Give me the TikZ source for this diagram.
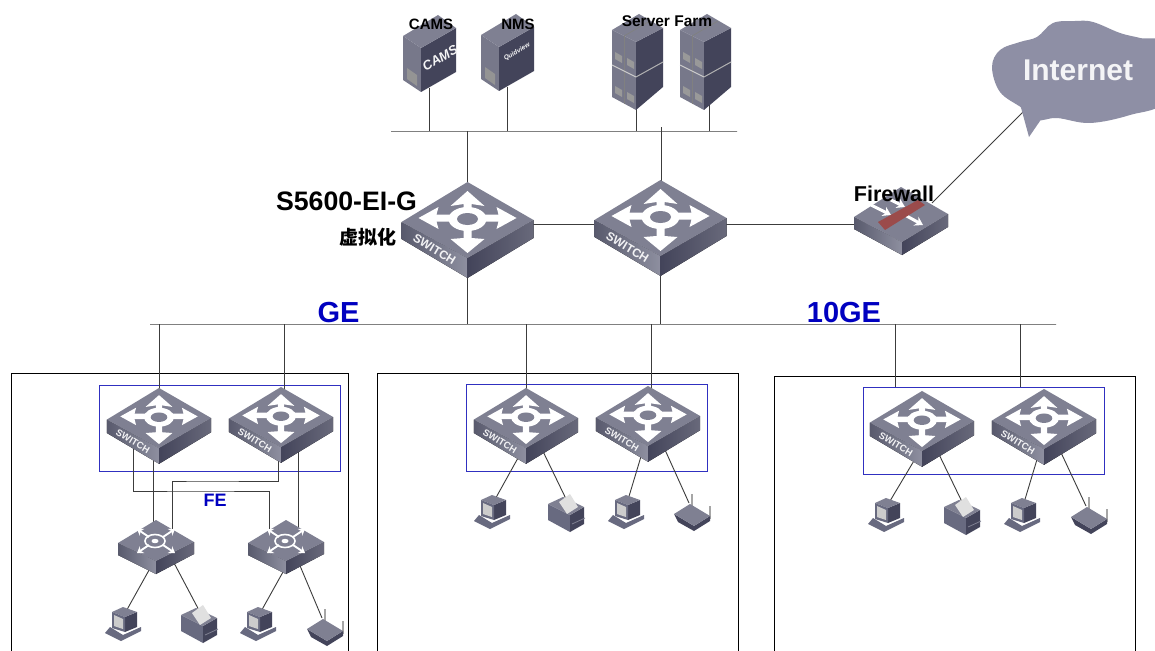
\documentclass[tikz,border=0pt]{standalone}
\usepackage{fontspec}
\setmainfont{Liberation Sans}
\newfontfamily\cjkfont{Noto Sans CJK SC}
\usetikzlibrary{arrows.meta,calc}
\pgfdeclarelayer{bg}
\pgfsetlayers{bg,main}
\definecolor{topc}{HTML}{7F8092}
\definecolor{leftc}{HTML}{686A80}
\definecolor{rightc}{HTML}{43445A}
\definecolor{towerc}{HTML}{77788A}
\definecolor{cloudc}{HTML}{8E8FA5}
\definecolor{blueb}{HTML}{3030C0}
\definecolor{lab}{HTML}{0000C0}
\definecolor{wire}{HTML}{3C3C3C}
\tikzset{
  wirel/.style={draw=wire,line width=.9pt},
  ttop/.style={fill=topc},
  tleft/.style={left color=leftc!85!black,right color=leftc!75!white},
  tright/.style={left color=rightc,right color=rightc!80!white},
  wht/.style={fill=white},
  blackbox/.style={draw=black,line width=.7pt},
  bluebox/.style={draw=blueb,line width=.8pt,inner sep=0pt},
  busline/.style={draw=wire,line width=.9pt,inner sep=0pt,minimum height=0pt},
  lbl/.style={inner sep=0pt,font=\bfseries},
  pics/bigsw/.style={code={
    \coordinate (-c) at (0,0);
    \coordinate (-top) at (0,-30);
    \coordinate (-bot) at (0,50);
    \coordinate (-pa) at (-32,30);
    \coordinate (-pb) at (-7,45);
    \coordinate (-pc) at (-3,45);
    \coordinate (-pd) at (18,35);
    \fill[tleft] (-66,2)--(0,38)--(0,58)--(-66,19)--cycle;
    \fill[tright] (0,38)--(66,0)--(66,18)--(0,58)--cycle;
    \fill[ttop] (0,-38)--(66,0)--(0,38)--(-66,2)--cycle;
    \fill[wht] (-49,-2)--(-29,-13)--(-31,-5.5)--(31,-5.5)--(29,-13)--(49,-2)--(29,9)--(31,1.5)--(-31,1.5)--(-29,9)--cycle;
    \fill[wht] (0,-29)--(17,-14)--(4,-16)--(4,18)--(17,19)--(0,33)--(-17,19)--(-4,18)--(-4,-16)--(-17,-14)--cycle;
    \fill[wht] (0,-1) ellipse [x radius=19,y radius=12];
    \fill[topc] (0,-1) ellipse [x radius=10.5,y radius=6];
    \node[transform shape,rotate=-31,text=white!90!topc,inner sep=0pt,font=\fontsize{12}{12}\selectfont\bfseries] at (-33,29.5) {SWITCH};
  }},
  pics/accsw/.style={code={
    \coordinate (-c) at (0,0);
    \coordinate (-pa) at (-3,22);
    \coordinate (-pb) at (17,20);
    \fill[tleft] (-38,2)--(0,20)--(0,33)--(-38,14)--cycle;
    \fill[tright] (0,20)--(38,1)--(38,13)--(0,33)--cycle;
    \fill[ttop] (0,-21)--(38,1)--(0,20)--(-38,2)--cycle;
    \draw[white,line width=1.6pt] (-1,0) ellipse [x radius=10,y radius=6.5];
    \foreach \dx/\dy in {-1/-1,1/-1,-1/1,1/1}
      \draw[white,line width=1.9pt,-{Stealth[length=6pt,width=8pt]}] (\dx*7,\dy*4) -- (\dx*19,\dy*12);
    \fill[white] (-1,0) ellipse [x radius=3.5,y radius=2.2];
  }},
  pics/firewallsw/.style={code={
    \coordinate (-c) at (0,0);
    \coordinate (-w) at (-40,9);
    \coordinate (-ne) at (31,-12);
    \fill[tleft] (-47,2)--(1,27)--(1,40)--(-47,14)--cycle;
    \fill[tright] (1,27)--(47,-1)--(47,12)--(1,40)--cycle;
    \fill[ttop] (0,-28)--(47,-1)--(1,27)--(-47,2)--cycle;
    \draw[white,line width=3pt,-{Stealth[length=8pt,width=10pt]}] (-30,-10)--(-10,0);
    \draw[white,line width=3pt,-{Stealth[length=8pt,width=10pt]}] (-12,-16)--(4,-8);
    \draw[white,line width=3pt,-{Stealth[length=8pt,width=10pt]}] (2,-1)--(22,10);
    \fill[fill=red!35!gray!90!black] (-23,7)--(17,-15)--(24,-10)--(-16,15)--cycle;
  }},
  pics/pcdev/.style={code={
    \coordinate (-n) at (1,-10);
    \fill[fill=leftc] (-13,2)--(0,10)--(18,2)--(18,6)--(-2,16)--(-18,8)--cycle;
    \fill[fill=rightc] (2,-8)--(14,-13)--(14,2)--(2,7)--cycle;
    \fill[fill=topc] (-11,-13)--(0,-18)--(14,-13)--(2,-8)--cycle;
    \fill[fill=leftc] (-11,-13)--(2,-8)--(2,7)--(-11,3)--cycle;
    \fill[fill=black!20] (-9,-10)--(0,-6)--(0,4)--(-9,1)--cycle;
  }},
  pics/printerdev/.style={code={
    \coordinate (-n) at (2,-9);
    \fill[fill=leftc] (-18,-8)--(4,3)--(4,20)--(-18,8)--cycle;
    \fill[fill=rightc] (4,3)--(18,-5)--(18,12)--(4,20)--cycle;
    \fill[fill=topc] (-18,-8)--(-3,-15)--(18,-5)--(4,3)--cycle;
    \fill[fill=black!12] (-7,-10)--(4,-18)--(12,-5)--(1,2)--cycle;
    \draw[topc,line width=.8pt] (6,12)--(19,6);
  }},
  pics/routerdev/.style={code={
    \coordinate (-n) at (-3,-13);
    \draw[black!35,line width=1.2pt] (0,-22)--(0,-10);
    \draw[black!35,line width=1.2pt] (18,-10)--(18,3);
    \fill[fill=rightc] (-18,-2)--(2,10)--(18,0)--(18,5)--(2,15)--(-14,6)--cycle;
    \fill[fill=topc] (-18,-2)--(-2,-12)--(18,0)--(2,10)--cycle;
  }},
  pics/tower/.style={code={
    \fill[fill=towerc] (-18,-12)--(0,0)--(0,44)--(-18,32)--cycle;
    \fill[fill=rightc] (0,0)--(35,-20)--(35,24)--(0,44)--cycle;
    \fill[fill=topc] (-18,-12)--(0,0)--(35,-20)--(17,-33)--cycle;
    \fill[fill=black!42] (-14,20)--(-4,27)--(-4,38)--(-14,31)--cycle;
    \coordinate (-port) at (8,40);
  }},
  pics/farm/.style={code={
    \fill[fill=towerc] (-24,-12)--(0,0)--(0,68)--(-24,55)--cycle;
    \fill[fill=rightc] (0,0)--(27,-14)--(27,45)--(0,68)--cycle;
    \fill[fill=topc] (-24,-12)--(3,-28)--(27,-14)--(0,0)--cycle;
    \draw[black!50,line width=.7pt] (-12,-6)--(-12,62);
    \draw[black!50,line width=.7pt] (-12,-6)--(14,-21);
    \draw[black!20,line width=1pt] (-24,23)--(0,35);
    \draw[black!30,line width=1pt] (0,35)--(27,20);
    \foreach \xa/\ya in {-21/10,-9/16,-21/44,-9/50}
      \fill[fill=black!40] (\xa,\ya)--(\xa+7,\ya+4)--(\xa+7,\ya+11)--(\xa,\ya+7)--cycle;
    \coordinate (-port) at (0,60);
  }}
}
\begin{document}
\begin{tikzpicture}[x=1pt,y=-1pt]
\clip (0,0) rectangle (1155,650);
\begin{pgfonlayer}{bg}
\fill[white] (0,0) rectangle (1155,650);
\draw[blackbox] (11,670)--(11,373)--(348,373)--(348,670);
\draw[blackbox] (377,670)--(377,373)--(738,373)--(738,670);
\draw[blackbox] (774,670)--(774,376)--(1135,376)--(1135,670);
\node[bluebox,minimum width=241pt,minimum height=86pt] (b1) at (219.5,428) {};
\node[bluebox,minimum width=241pt,minimum height=87pt] (b2) at (586.5,427.5) {};
\node[bluebox,minimum width=241pt,minimum height=87pt] (b3) at (983.5,430.5) {};
\node[busline,minimum width=346pt] (busT) at (564,131) {};
\node[busline,minimum width=906pt] (busB) at (603,324) {};
\coordinate (c2up) at (661,127);
\coordinate (feA) at (200,491);
\coordinate (feB) at (200,481);
\coordinate (inet) at (1028,107);
\end{pgfonlayer}

% devices
\pic (cams) at (421,48) {tower};
\pic (nms) at (499,47) {tower};
\pic (srv1) at (636,42) {farm};
\pic (srv2) at (704,42) {farm};
\node[rotate=30,text=white!92!topc,inner sep=0pt,font=\fontsize{13}{13}\selectfont\bfseries\itshape] (camstxt) at (440,58) {CAMS};
\node[rotate=30,text=white!92!topc,inner sep=0pt,font=\fontsize{6.5}{6.5}\selectfont\bfseries\itshape] (nmstxt) at (517,52) {Quidview};

\pic (core1) at (467.5,220) {bigsw};
\pic (core2) at (660.5,218) {bigsw};
\pic (fw) at (901,215) {firewallsw};

\fill[cloudc] plot[smooth cycle,tension=.6] coordinates {(992,67) (1000,50) (1020,42) (1037,37) (1053,23) (1075,21) (1093,22) (1120,33) (1140,38) (1165,45) (1165,100) (1130,115) (1090,123) (1057,118) (1037,120) (1022,108) (1000,92)};
\fill[cloudc] (1020,104)--(1042,118)--(1029,137)--cycle;
\node[text=white!90!cloudc,inner sep=0pt,font=\fontsize{30}{30}\selectfont\bfseries] (inettxt) at (1078,70) {Internet};

\pic[scale=.79] (s1) at (159,418) {bigsw};
\pic[scale=.79] (s2) at (281,417) {bigsw};
\pic[scale=.79] (s3) at (526,418) {bigsw};
\pic[scale=.79] (s4) at (648,416) {bigsw};
\pic[scale=.79] (s5) at (922,421) {bigsw};
\pic[scale=.79] (s6) at (1044,419) {bigsw};

\pic (a1) at (156,541) {accsw};
\pic (a2) at (286,541) {accsw};

\pic (p1) at (123,625) {pcdev};
\pic (q1) at (199,623) {printerdev};
\pic (p2) at (258,625) {pcdev};
\pic (r1) at (325,631) {routerdev};
\pic (p3) at (492,513) {pcdev};
\pic (q2) at (566,512) {printerdev};
\pic (p4) at (626,513) {pcdev};
\pic (r2) at (692,516) {routerdev};
\pic (p5) at (886,516) {pcdev};
\pic (q3) at (962,515) {printerdev};
\pic (p6) at (1022,516) {pcdev};
\pic (r3) at (1089,519) {routerdev};

% connectors
\begin{pgfonlayer}{bg}
\draw[wirel] (cams-port) -- (cams-port |- busT.center);
\draw[wirel] (nms-port) -- (nms-port |- busT.center);
\draw[wirel] (srv1-port) -- (srv1-port |- busT.center);
\draw[wirel] ([xshift=5pt]srv2-port) -- ([xshift=5pt]srv2-port |- busT.center);
\draw[wirel] (core1-top |- busT.center) -- (core1-top);
\draw[wirel] (c2up) -- (c2up |- core2-top);
\draw[wirel] (core1-bot) -- (core1-bot |- busB.center);
\draw[wirel] (core2-bot) -- (core2-bot |- busB.center);
\draw[wirel] (core1-c |- fw-w) -- (core2-c |- fw-w);
\draw[wirel] (core2-c |- fw-w) -- (fw-w);
\draw[wirel] (fw-ne) -- (inet);
\draw[wirel] (s1-top |- busB.center) -- (s1-top);
\draw[wirel] ([xshift=3pt]s2-top |- busB.center) -- ([xshift=3pt]s2-top);
\draw[wirel] (s3-top |- busB.center) -- (s3-top);
\draw[wirel] ([xshift=3pt]s4-top |- busB.center) -- ([xshift=3pt]s4-top);
\draw[wirel] ([xshift=-88.5pt]b3.north |- busB.center) -- ([xshift=-88.5pt]b3.north);
\draw[wirel] ([xshift=36.5pt]b3.north |- busB.center) -- ([xshift=36.5pt]b3.north);
\draw[wirel] (s1-pb) -- (s1-pb |- a1-c);
\draw[wirel] ([xshift=3pt]s2-pd) -- ([xshift=3pt]s2-pd |- a2-c);
\draw[wirel] (s1-pa) |- (feA) -| ([xshift=-17pt]a2-c);
\draw[wirel] (s2-pc) |- (feB) -| ([xshift=16pt]a1-c);
\draw[wirel] (a1-pa) -- (p1-n);
\draw[wirel] (a1-pb) -- (q1-n);
\draw[wirel] ([xshift=5pt]a2-pa) -- (p2-n);
\draw[wirel] ([xshift=-5pt]a2-pb) -- (r1-n);
\draw[wirel] (s3-pb) -- (p3-n);
\draw[wirel] (s3-pd) -- (q2-n);
\draw[wirel] (s4-pb) -- (p4-n);
\draw[wirel] (s4-pd) -- (r2-n);
\draw[wirel] (s5-pb) -- (p5-n);
\draw[wirel] (s5-pd) -- (q3-n);
\draw[wirel] (s6-pb) -- (p6-n);
\draw[wirel] (s6-pd) -- (r3-n);
\end{pgfonlayer}

% labels
\node[lbl,font=\fontsize{15}{15}\selectfont\bfseries] (lcams) at (431,24) {CAMS};
\node[lbl,font=\fontsize{15}{15}\selectfont\bfseries] (lnms) at (518,24) {NMS};
\node[lbl,font=\fontsize{15.5}{15.5}\selectfont\bfseries] (lfarm) at (667,21) {Server Farm};
\node[lbl,font=\fontsize{26.7}{26.7}\selectfont\bfseries] (lcore) at (346.5,201) {S5600-EI-G};
\node[inner sep=0pt,font=\fontsize{19}{19}\selectfont\cjkfont\bfseries] (lvirt) at (368,237) {虚拟化};
\node[lbl,font=\fontsize{21.5}{21.5}\selectfont\bfseries] (lfw) at (894,194) {Firewall};
\node[lbl,text=lab,font=\fontsize{29}{29}\selectfont\bfseries] (lge) at (338.5,313) {GE};
\node[lbl,text=lab,font=\fontsize{29}{29}\selectfont\bfseries] (ltge) at (844,313) {10GE};
\node[lbl,text=lab,font=\fontsize{18}{18}\selectfont\bfseries] (lfe) at (215,500) {FE};
\end{tikzpicture}
\end{document}
